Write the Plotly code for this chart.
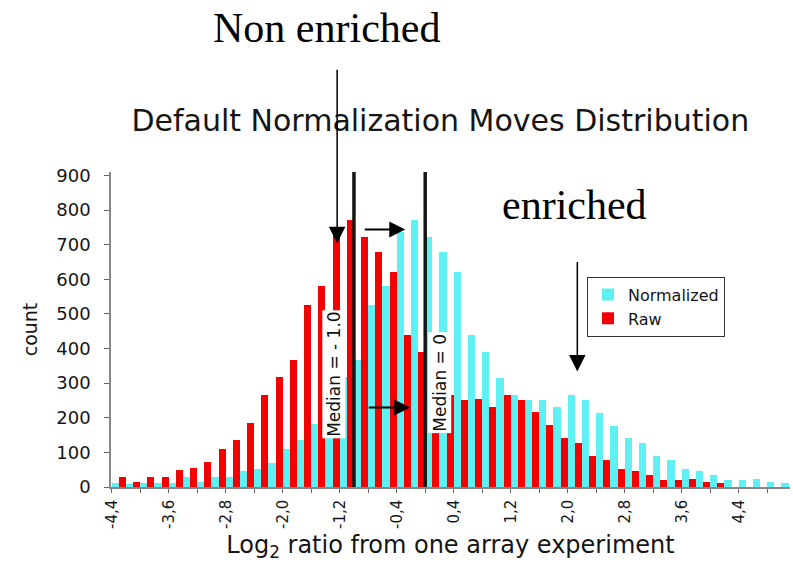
import plotly.graph_objects as go

# ---------------- data ----------------
bin_centers = [-4.3, -4.1, -3.9, -3.7, -3.5, -3.3, -3.1, -2.9, -2.7, -2.5,
               -2.3, -2.1, -1.9, -1.7, -1.5, -1.3, -1.1, -0.9, -0.7, -0.5,
               -0.3, -0.1, 0.1, 0.3, 0.5, 0.7, 0.9, 1.1, 1.3, 1.5,
               1.7, 1.9, 2.1, 2.3, 2.5, 2.7, 2.9, 3.1, 3.3, 3.5,
               3.7, 3.9, 4.1, 4.3, 4.5, 4.7, 4.9, 5.1]

normalized = [12, 10, 12, 12, 12, 29, 14, 29, 30, 46,
              53, 69, 111, 137, 183, 265, 318, 368, 527, 580,
              736, 770, 722, 679, 621, 438, 390, 314, 265, 252,
              252, 231, 265, 252, 214, 176, 143, 127, 90, 79,
              51, 46, 34, 21, 21, 24, 14, 12]

raw = [29, 14, 29, 30, 48, 56, 72, 111, 137, 185,
       265, 318, 368, 527, 580, 735, 770, 722, 679, 621,
       438, 390, 314, 265, 252, 253, 231, 265, 252, 217,
       178, 143, 128, 90, 79, 53, 46, 34, 21, 21,
       24, 14, 12, 0, 0, 0, 0, 0]

tick_values = [-4.4, -4.0, -3.6, -3.2, -2.8, -2.4, -2.0, -1.6, -1.2, -0.8,
               -0.4, 0.0, 0.4, 0.8, 1.2, 1.6, 2.0, 2.4, 2.8, 3.2,
               3.6, 4.0, 4.4, 4.8]
tick_labels = ["-4,4", "", "-3,6", "", "-2,8", "", "-2,0", "", "-1,2", "",
               "-0,4", "", "0,4", "", "1,2", "", "2,0", "", "2,8", "",
               "3,6", "", "4,4", ""]
y_ticks = [0, 100, 200, 300, 400, 500, 600, 700, 800, 900]

median_raw = -1.0
median_norm = 0.0
line_top = 910

CYAN = "#5ef0f2"
RED = "#f50000"
FONT = "DejaVu Sans"
SERIF = "Liberation Serif"
TXT = "#151515"

fig = go.Figure()
fig.add_bar(x=bin_centers, y=normalized, name="Normalized",
            marker=dict(color=CYAN, line=dict(width=0)))
fig.add_bar(x=bin_centers, y=raw, name="Raw",
            marker=dict(color=RED, line=dict(width=0)))

for m in (median_raw, median_norm):
    fig.add_shape(type="line", x0=m, x1=m, y0=0, y1=line_top,
                  xref="x", yref="y", line=dict(color="#151515", width=3.5),
                  layer="above")

annotations = [
    # median labels (white boxes, rotated)
    dict(x=-1.29, y=325, xref="x", yref="y", text="Median = - 1.0",
         textangle=-90, showarrow=False, bgcolor="white",
         font=dict(family=FONT, size=17, color="#111")),
    dict(x=0.21, y=302, xref="x", yref="y", text="Median = 0",
         textangle=-90, showarrow=False, bgcolor="white",
         font=dict(family=FONT, size=17, color="#111")),
    # down arrow from "Non enriched"
    dict(x=-1.236, y=704, xref="x", yref="y", ax=0, ay=-175, text="",
         showarrow=True, arrowhead=2, arrowsize=2.2, arrowwidth=1.5,
         arrowcolor="black"),
    # down arrow toward enriched tail
    dict(x=2.135, y=334, xref="x", yref="y", ax=0, ay=-111, text="",
         showarrow=True, arrowhead=2, arrowsize=2.2, arrowwidth=1.5,
         arrowcolor="black"),
    # horizontal shift arrows
    dict(x=-0.28, y=744, xref="x", yref="y", ax=-42, ay=0, text="",
         showarrow=True, arrowhead=2, arrowsize=1.6, arrowwidth=2,
         arrowcolor="black"),
    dict(x=-0.21, y=230, xref="x", yref="y", ax=-43, ay=0, text="",
         showarrow=True, arrowhead=2, arrowsize=1.6, arrowwidth=2,
         arrowcolor="black"),
    # big serif texts
    dict(x=0.318, y=1.456, xref="paper", yref="paper", text="Non enriched",
         showarrow=False, xanchor="center", yanchor="middle",
         font=dict(family=SERIF, size=42, color="black")),
    dict(x=0.682, y=0.896, xref="paper", yref="paper", text="enriched",
         showarrow=False, xanchor="center", yanchor="middle",
         font=dict(family=SERIF, size=42, color="black")),
]

fig.update_layout(
    width=793, height=562,
    margin=dict(l=111, r=3, t=172, b=75, autoexpand=False),
    paper_bgcolor="white", plot_bgcolor="white",
    barmode="group", bargap=0.0, bargroupgap=0.0,
    title=dict(text="Default Normalization Moves Distribution",
               x=0.485, xref="paper", xanchor="center",
               y=0.785, yref="container", yanchor="middle",
               font=dict(family=FONT, size=30, color=TXT)),
    showlegend=True,
    legend=dict(x=0.701, y=0.668, xanchor="left", yanchor="top",
                bgcolor="white", bordercolor="#333", borderwidth=1,
                font=dict(family=FONT, size=16, color=TXT),
                traceorder="normal", itemclick=False),
    annotations=annotations,
    xaxis=dict(range=[-4.41, 5.12], tickmode="array", tickvals=tick_values,
               ticktext=tick_labels, tickangle=-90, ticks="outside",
               ticklen=4, tickcolor="#666", showline=True, linecolor="#888",
               linewidth=1.5, showgrid=False, zeroline=False,
               ticklabelstandoff=1,
               tickfont=dict(family=FONT, size=15, color=TXT),
               title=dict(text="Log<sub>2</sub> ratio from one array experiment",
                          standoff=8,
                          font=dict(family=FONT, size=24, color=TXT))),
    yaxis=dict(range=[0, line_top], tickmode="array", tickvals=y_ticks,
               ticks="outside", ticklen=5, tickcolor="#666", showline=True,
               linecolor="#888", linewidth=1.5, showgrid=False,
               zeroline=False, ticklabelstandoff=10,
               tickfont=dict(family=FONT, size=18, color=TXT),
               title=dict(text="count", standoff=14,
                          font=dict(family=FONT, size=19, color=TXT))),
)

fig.write_html("out.html")
